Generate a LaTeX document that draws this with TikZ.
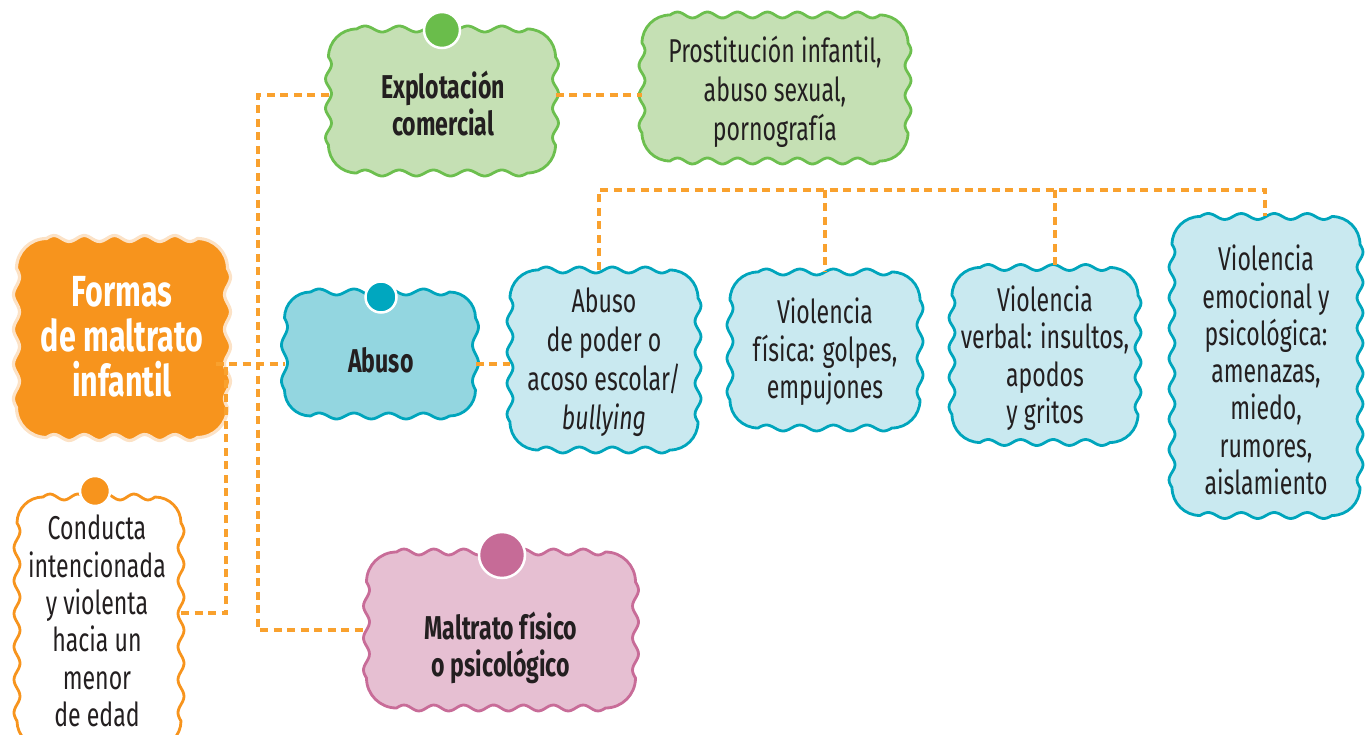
\documentclass[tikz,border=0pt]{standalone}
\usepackage{fontspec}
\setmainfont{Fira Sans}[FakeStretch=0.7]
\definecolor{mainorange}{HTML}{F7941D}
\definecolor{peach}{HTML}{FCE2C6}
\definecolor{connorange}{HTML}{F9A12E}
\definecolor{greenfill}{HTML}{C5E0B4}
\definecolor{greenline}{HTML}{6CBF4E}
\definecolor{greendot}{HTML}{6ABD4B}
\definecolor{tealfill}{HTML}{93D6E0}
\definecolor{tealline}{HTML}{00A5BC}
\definecolor{tealdot}{HTML}{00A7BF}
\definecolor{lightblue}{HTML}{C9E9F0}
\definecolor{pinkfill}{HTML}{E6BFD2}
\definecolor{pinkline}{HTML}{C86C98}
\definecolor{pinkdot}{HTML}{C66B97}
\definecolor{textdark}{HTML}{231F20}
\tikzset{
  wave/.style={draw, line width=2.8pt, line join=round},
  greenbox/.style={wave, fill=greenfill, draw=greenline},
  tealbox/.style={wave, fill=tealfill, draw=tealline},
  bluebox/.style={wave, fill=lightblue, draw=tealline},
  pinkbox/.style={wave, fill=pinkfill, draw=pinkline},
  orangebox/.style={wave, fill=mainorange, draw=peach, line width=3.2pt},
  whitebox/.style={wave, fill=white, draw=mainorange},
  boxarea/.style={inner sep=0pt, outer sep=0pt},
  txt/.style={align=center, text=textdark, inner sep=0pt, font=\fontsize{33}{37.5}\selectfont},
  txtwide/.style={align=center, text=textdark, inner sep=0pt, font=\fontsize{33}{39}\selectfont},
  boldtxt/.style={txt, font=\fontsize{33}{37}\selectfont\bfseries},
  bigtxt/.style={align=center, text=white, inner sep=0pt, font=\fontsize{43.5}{45}\selectfont\bfseries},
  dot/.style={circle, draw=white, line width=2.5pt, inner sep=0pt},
  conn/.style={draw=connorange, line width=3.1pt, dash pattern=on 8pt off 5.5pt},
}
% #1 name, #2 cx, #3 cy, #4 w, #5 h, #6 style, #7 corner radius
\newcommand\wbox[7]{%
  \node[boxarea, minimum width=#4pt, minimum height=#5pt] (#1) at (#2,#3) {};
  \pgfmathsetmacro\wxa{#2-#4/2}\pgfmathsetmacro\wxb{#2+#4/2}%
  \pgfmathsetmacro\wya{#3-#5/2}\pgfmathsetmacro\wyb{#3+#5/2}%
  \pgfmathsetmacro\wr{#7}\pgfmathsetmacro\wk{0.5523*#7}%
  \pgfmathsetmacro\wLh{#4-2*#7}\pgfmathsetmacro\wLv{#5-2*#7}%
  \pgfmathsetmacro\wfh{360*max(1,round(\wLh/32))/\wLh}%
  \pgfmathsetmacro\wfv{360*max(1,round(\wLv/32))/\wLv}%
  \pgfmathtruncatemacro\wsh{\wLh/2.5+3}\pgfmathtruncatemacro\wsv{\wLv/2.5+3}%
  \def\wa{3}%
  \path[#6]
   (\wxa+\wr,\wya)
   -- plot[domain=0:\wLh, samples=\wsh, smooth] ({\wxa+\wr+\x},{\wya-\wa*sin(\wfh*\x)})
   .. controls (\wxb-\wr+\wk,\wya) and (\wxb,\wya+\wr-\wk) .. (\wxb,\wya+\wr)
   -- plot[domain=0:\wLv, samples=\wsv, smooth] ({\wxb+\wa*sin(\wfv*\x)},{\wya+\wr+\x})
   .. controls (\wxb,\wyb-\wr+\wk) and (\wxb-\wr+\wk,\wyb) .. (\wxb-\wr,\wyb)
   -- plot[domain=0:\wLh, samples=\wsh, smooth] ({\wxb-\wr-\x},{\wyb+\wa*sin(\wfh*\x)})
   .. controls (\wxa+\wr-\wk,\wyb) and (\wxa,\wyb-\wr+\wk) .. (\wxa,\wyb-\wr)
   -- plot[domain=0:\wLv, samples=\wsv, smooth] ({\wxa-\wa*sin(\wfv*\x)},{\wyb-\wr-\x})
   .. controls (\wxa,\wya+\wr-\wk) and (\wxa+\wr-\wk,\wya) .. (\wxa+\wr,\wya) -- cycle;}
\begin{document}
\begin{tikzpicture}[x=1pt,y=-1pt]
\useasboundingbox (0,0) rectangle (1367,735);
\clip (0,0) rectangle (1367,735);

% boxes
\wbox{formas}{122}{338}{211}{199}{orangebox}{30}
\wbox{explo}{442}{101}{227}{144}{greenbox}{28}
\wbox{prost}{775}{88}{266}{146}{greenbox}{28}
\wbox{abuso}{380}{354}{191}{124}{tealbox}{26}
\wbox{poder}{604}{360}{188}{180}{bluebox}{28}
\wbox{fisica}{825}{350}{190}{156}{bluebox}{28}
\wbox{verbal}{1045}{355}{186}{175}{bluebox}{28}
\wbox{emoc}{1266}{366}{188}{299}{bluebox}{28}
\wbox{conducta}{99}{622}{164}{250}{whitebox}{26}
\wbox{maltrato}{501}{630}{269}{156}{pinkbox}{30}

% dots
\node[dot, fill=greendot, minimum size=36pt] (explodot) at (442,30) {};
\node[dot, fill=tealdot, minimum size=31pt] (abusodot) at (381,297) {};
\node[dot, fill=pinkdot, minimum size=46pt] (maltratodot) at (502,555) {};
\node[dot, fill=mainorange, minimum size=30pt] (conductadot) at (95,491) {};

% texts
\node[bigtxt] (formasT) at (122,337) {Formas\\de maltrato\\infantil};
\node[boldtxt] (exploT) at (443,104) {Explotación\\comercial};
\node[txtwide] (prostT) at (775,92) {Prostitución infantil,\\abuso sexual,\\pornografía};
\node[boldtxt] (abusoT) at (381,360) {Abuso};
\node[txtwide] (poderT) at (604,362) {Abuso\\de poder o\\acoso escolar/\\\textit{bullying}};
\node[txt] (fisicaT) at (825,352) {Violencia\\física: golpes,\\empujones};
\node[txt] (verbalT) at (1045,358) {Violencia\\verbal: insultos,\\apodos\\y gritos};
\node[txt, font=\fontsize{33}{37.3}\selectfont] (emocT) at (1266,370) {Violencia\\emocional y\\psicológica:\\amenazas,\\miedo,\\rumores,\\aislamiento};
\node[txt, font=\fontsize{33}{37.4}\selectfont] (conductaT) at (97,621) {Conducta\\intencionada\\y violenta\\hacia un\\menor\\de edad};
\node[boldtxt] (maltratoT) at (501,648) {Maltrato físico\\o psicológico};

% connector points
\coordinate (tTop) at (258,95);
\coordinate (tBot) at (258,630);
\coordinate (j1) at (258,364);
\coordinate (b1) at (599,190);
\coordinate (b2) at (825,190);
\coordinate (b3) at (1055,190);
\coordinate (b4) at (1265,190);
\coordinate (c1) at (226,613);

% connectors
\draw[conn] (explo.west |- tTop) -- (tTop) -- (tBot) -- (maltrato.west |- tBot);
\draw[conn] (explo.east |- tTop) -- (prost.west |- tTop);
\draw[conn] ([xshift=-12pt]formas.east |- j1) -- (abuso.west |- j1);
\draw[conn] (abuso.east |- j1) -- (poder.west |- j1);
\draw[conn] (b1 |- poder.north) -- (b1) -- (b4) -- (b4 |- emoc.north);
\draw[conn] (b2) -- (b2 |- fisica.north);
\draw[conn] (b3) -- (b3 |- verbal.north);
\draw[conn] (conducta.east |- c1) -- (c1) -- (c1 |- j1);
\end{tikzpicture}
\end{document}
